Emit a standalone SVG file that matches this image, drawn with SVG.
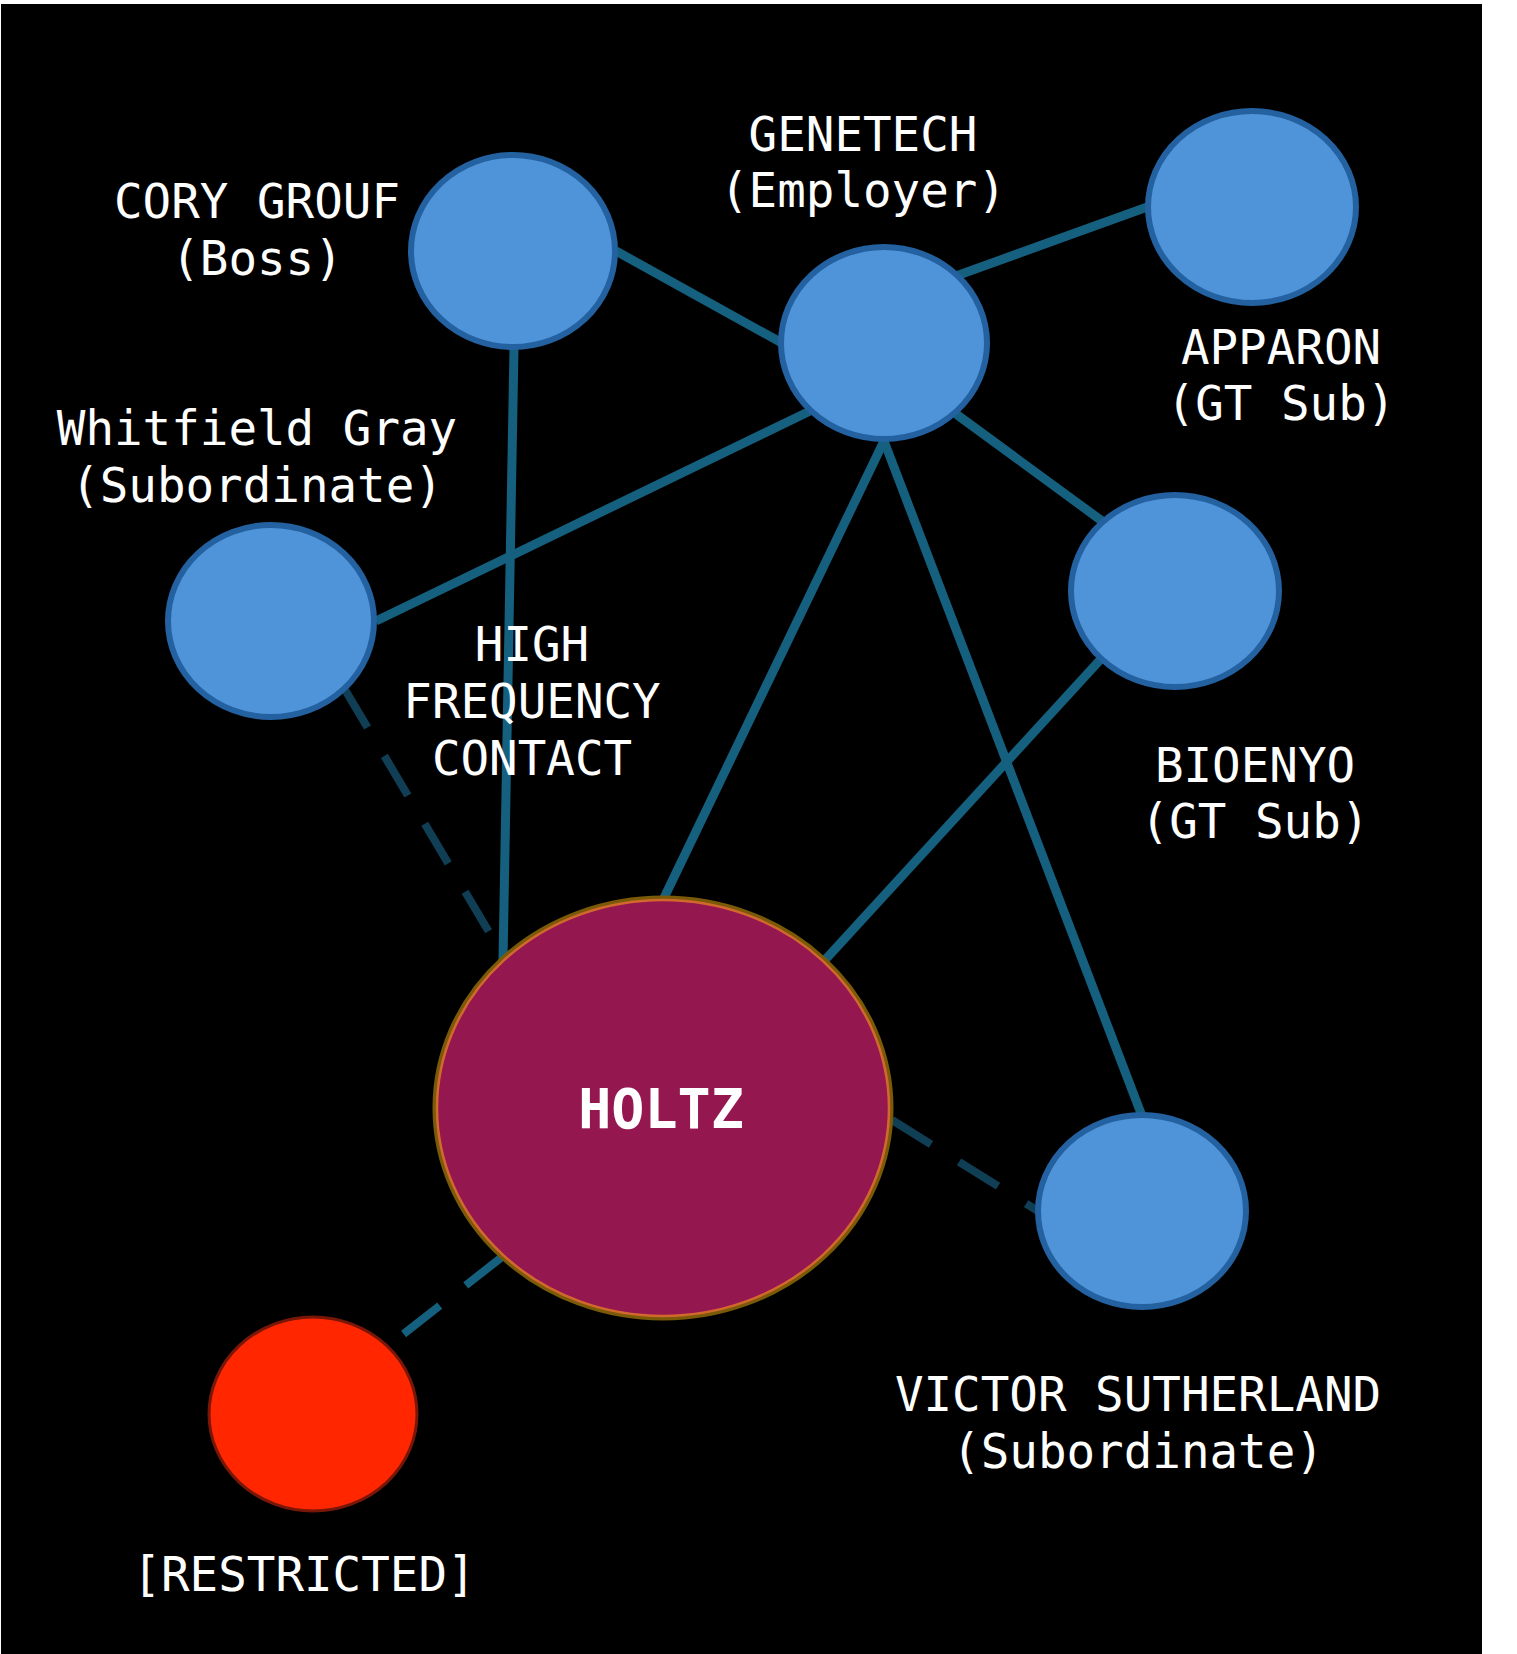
<svg xmlns="http://www.w3.org/2000/svg" width="1517" height="1654" viewBox="0 0 1517 1654">
<style>
.edge{stroke:#16607f;stroke-width:9;fill:none}
.dash{stroke-width:8;stroke-dasharray:46 33}
.dark{stroke:#103e55}
.blue{fill:#4f94d9;stroke:#2361a0;stroke-width:6}
.lbl{font-family:"DejaVu Sans Mono","Liberation Mono",monospace;font-size:47.5px;fill:#ffffff;text-anchor:middle}
</style>
<rect x="0" y="0" width="1517" height="1654" fill="#ffffff"/>
<rect x="1" y="4" width="1481" height="1650" fill="#000000"/>
<g id="connectors">
<line class="edge" x1="616" y1="251" x2="782" y2="343"/>
<line class="edge" x1="956" y1="276" x2="1150" y2="206"/>
<line class="edge" x1="810" y1="411" x2="376" y2="621"/>
<line class="edge" x1="514" y1="348" x2="503" y2="960"/>
<line class="edge" x1="884" y1="441" x2="663" y2="900"/>
<line class="edge" x1="884" y1="441" x2="1142" y2="1116"/>
<line class="edge" x1="956" y1="414" x2="1102" y2="521"/>
<line class="edge" x1="1100" y1="660" x2="825" y2="960"/>
<line class="edge dash dark" x1="344" y1="688" x2="492" y2="937"/>
<line class="edge dash dark" x1="892" y1="1120" x2="1038" y2="1211"/>
<line class="edge dash" x1="502" y1="1257" x2="401" y2="1336"/>
</g>
<g id="cory-grouf">
<ellipse class="blue" cx="513" cy="251" rx="102" ry="96"/>
<text class="lbl" x="257" y="218">CORY GROUF</text>
<text class="lbl" x="257" y="275">(Boss)</text>
</g>
<g id="genetech">
<ellipse class="blue" cx="884" cy="343" rx="103" ry="96"/>
<text class="lbl" x="863" y="151">GENETECH</text>
<text class="lbl" x="863" y="207">(Employer)</text>
</g>
<g id="apparon">
<ellipse class="blue" cx="1252" cy="207" rx="104" ry="96"/>
<text class="lbl" x="1281" y="364">APPARON</text>
<text class="lbl" x="1281" y="420">(GT Sub)</text>
</g>
<g id="whitfield-gray">
<ellipse class="blue" cx="271" cy="621" rx="103" ry="96"/>
<text class="lbl" x="257" y="445">Whitfield Gray</text>
<text class="lbl" x="257" y="502">(Subordinate)</text>
</g>
<g id="high-frequency-contact">
<text class="lbl" x="532" y="661">HIGH</text>
<text class="lbl" x="532" y="718">FREQUENCY</text>
<text class="lbl" x="532" y="775">CONTACT</text>
</g>
<g id="bioenyo">
<ellipse class="blue" cx="1175" cy="591" rx="104" ry="96"/>
<text class="lbl" x="1255" y="782">BIOENYO</text>
<text class="lbl" x="1255" y="838">(GT Sub)</text>
</g>
<g id="victor-sutherland">
<ellipse class="blue" cx="1142" cy="1211" rx="104" ry="96"/>
<text class="lbl" x="1138" y="1411">VICTOR SUTHERLAND</text>
<text class="lbl" x="1138" y="1468">(Subordinate)</text>
</g>
<g id="holtz">
<ellipse cx="663" cy="1108" rx="228" ry="210" fill="none" stroke="#7a5a08" stroke-width="5"/>
<ellipse cx="663" cy="1108" rx="226" ry="208" fill="#95174f" stroke="#d2692c" stroke-width="2.5"/>
<text x="661" y="1128" font-family="'DejaVu Sans Mono','Liberation Mono',monospace" font-size="55" font-weight="bold" fill="#ffffff" text-anchor="middle">HOLTZ</text>
</g>
<g id="restricted">
<ellipse cx="313" cy="1414" rx="104" ry="97" fill="#ff2600" stroke="#781608" stroke-width="3"/>
<text class="lbl" x="304" y="1591">[RESTRICTED]</text>
</g>
</svg>
